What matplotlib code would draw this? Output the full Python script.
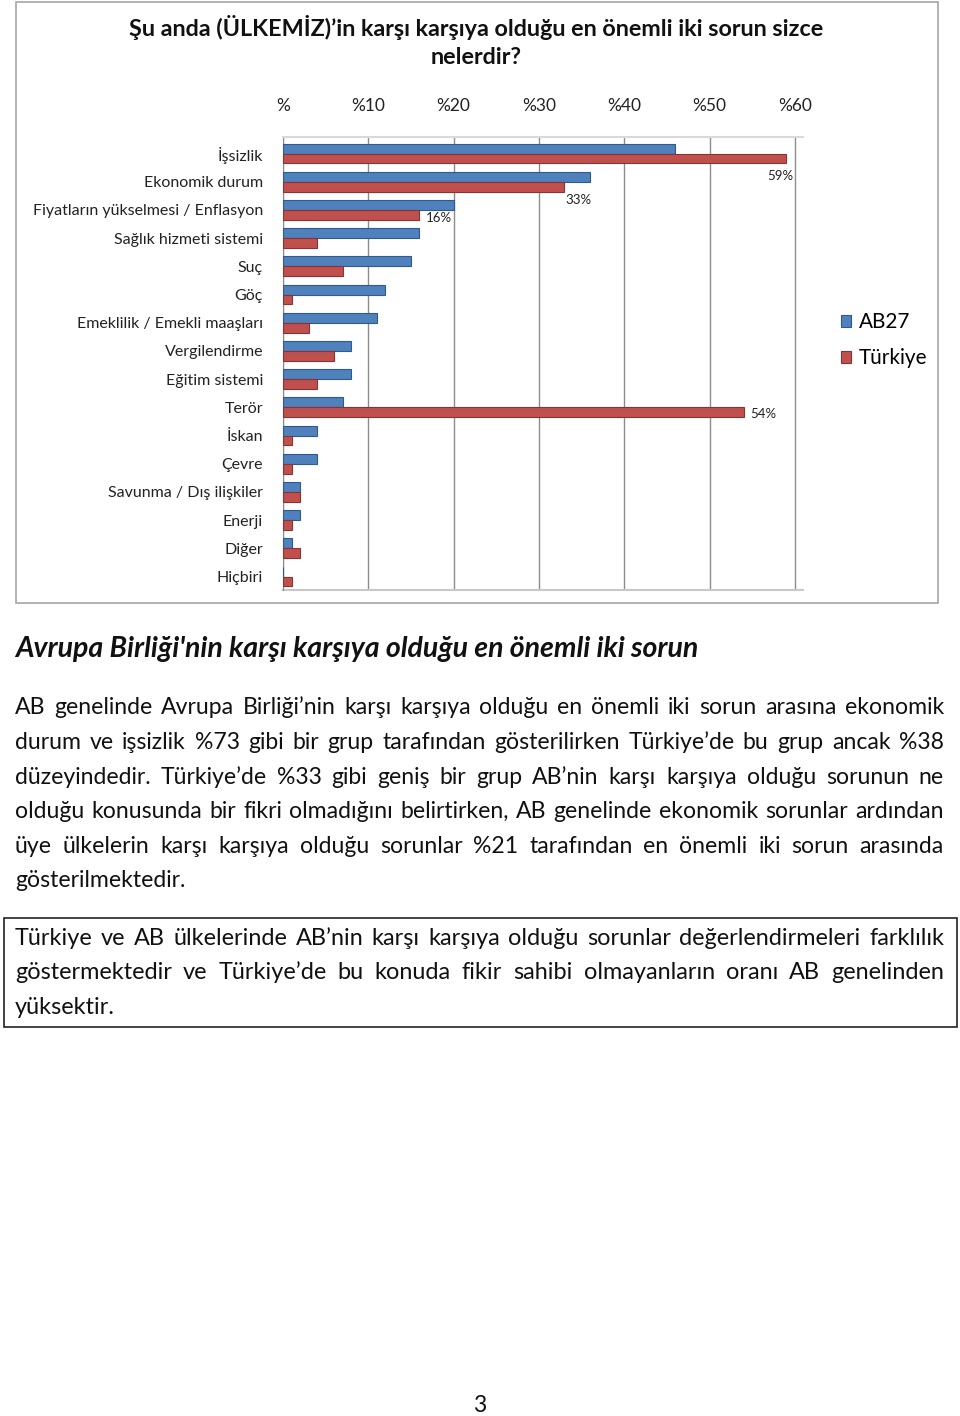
import matplotlib
matplotlib.use("Agg")
import matplotlib.pyplot as plt
from matplotlib.patches import Rectangle
import numpy as np

W, H = 960, 1416
FONT = ['Lato', 'DejaVu Sans']
plt.rcParams['font.family'] = FONT

# ---------------- data ----------------
categories = ["İşsizlik", "Ekonomik durum", "Fiyatların yükselmesi / Enflasyon",
              "Sağlık hizmeti sistemi", "Suç", "Göç", "Emeklilik / Emekli maaşları",
              "Vergilendirme", "Eğitim sistemi", "Terör", "İskan", "Çevre",
              "Savunma / Dış ilişkiler", "Enerji", "Diğer", "Hiçbiri"]
ab27 = [46, 36, 20, 16, 15, 12, 11, 8, 8, 7, 4, 4, 2, 2, 1, 0]
turkiye = [59, 33, 16, 4, 7, 1, 3, 6, 4, 54, 1, 1, 2, 1, 2, 1]
series_names = ["AB27", "Türkiye"]
tick_values = [0, 10, 20, 30, 40, 50, 60]
tick_labels = ["%", "%10", "%20", "%30", "%40", "%50", "%60"]
# labelled bars (row index, label, offset in px (dx, dy-down))
value_labels = [(0, "59%", (-6, 18)), (1, "33%", (14, 13)),
                (2, "16%", (19, 3)), (9, "54%", (20, 2))]

chart_title = ["Şu anda (ÜLKEMİZ)’in karşı karşıya olduğu en önemli iki sorun sizce",
               "nelerdir?"]
heading = "Avrupa Birliği'nin karşı karşıya olduğu en önemli iki sorun"
para_lines = [
    "AB genelinde Avrupa Birliği’nin karşı karşıya olduğu en önemli iki sorun arasına ekonomik",
    "durum ve işsizlik %73 gibi bir grup tarafından gösterilirken Türkiye’de bu grup ancak %38",
    "düzeyindedir. Türkiye’de %33 gibi geniş bir grup AB’nin karşı karşıya olduğu sorunun ne",
    "olduğu konusunda bir fikri olmadığını belirtirken, AB genelinde ekonomik sorunlar ardından",
    "üye ülkelerin karşı karşıya olduğu sorunlar %21 tarafından en önemli iki sorun arasında",
    "gösterilmektedir.",
]
box_lines = [
    "Türkiye ve AB ülkelerinde AB’nin karşı karşıya olduğu sorunlar değerlendirmeleri farklılık",
    "göstermektedir ve Türkiye’de bu konuda fikir sahibi olmayanların oranı AB genelinden",
    "yüksektir.",
]
page_number = "3"

# ---------------- figure ----------------
fig = plt.figure(figsize=(W / 100, H / 100), dpi=100)
fig.patch.set_facecolor('white')
renderer = fig.canvas.get_renderer()


def fx(x):
    return x / W


def fy(y):
    return 1 - y / H


def text_width(s, size, **kw):
    t = fig.text(0, 0, s, fontsize=size, **kw)
    w = t.get_window_extent(renderer).width
    t.remove()
    return w


def fit_size(s, target, **kw):
    return 10 * target / text_width(s, 10, **kw)


def justify(line, x0, x1, ybase, size, last=False, **kw):
    words = line.split(' ')
    widths = [text_width(w, size, **kw) for w in words]
    if last or len(words) == 1:
        gap = text_width('a a', size, **kw) - text_width('aa', size, **kw)
    else:
        gap = (x1 - x0 - sum(widths)) / (len(words) - 1)
    x = x0
    for w, wd in zip(words, widths):
        fig.text(fx(x), fy(ybase), w, fontsize=size, ha='left', va='baseline', **kw)
        x += wd + gap


# chart border
fig.add_artist(Rectangle((fx(16), fy(603)), fx(938 - 16), (603 - 2) / H,
                         transform=fig.transFigure, fill=False,
                         edgecolor='#a6a6a6', lw=1.2))

# chart title
ts = fit_size(chart_title[0], 697, fontweight='bold')
fig.text(fx(476), fy(27), chart_title[0], fontsize=ts, fontweight='bold',
         ha='center', va='center', color='#111111')
fig.text(fx(476), fy(57), chart_title[1], fontsize=ts, fontweight='bold',
         ha='center', va='center', color='#111111')

# axes
x_left, x_right = 283, 803
y_top, y_bot = 137, 590
row0, row_step = 153.5, 28.2
ax = fig.add_axes([fx(x_left), fy(y_bot), (x_right - x_left) / W, (y_bot - y_top) / H])
xmax = (x_right - x_left) / 8.53
ax.set_xlim(0, xmax)
ax.set_ylim((y_bot - row0) / row_step, (y_top - row0) / row_step)

pos = np.arange(len(categories))
bh = 0.35
ax.barh(pos - bh / 2, ab27, height=bh, color='#4F81BD', edgecolor='#2f5a8f',
        lw=0.8, label=series_names[0], zorder=3)
ax.barh(pos + bh / 2, turkiye, height=bh, color='#C0504D', edgecolor='#8c3331',
        lw=0.8, label=series_names[1], zorder=3)

ax.set_xticks(tick_values)
ax.xaxis.tick_top()
ls = fit_size("%10", 34)
ax.set_xticklabels(tick_labels, fontsize=ls, color='#222222')
ax.tick_params(axis='x', length=0, pad=ls * 1.75 - 5)
ax.set_yticks(pos)
cs = fit_size(categories[2], 230)
ax.set_yticklabels(categories, fontsize=cs, color='#222222')
ax.tick_params(axis='y', length=0, pad=14.4)
ax.grid(axis='x', color='#8c8c8c', lw=1.0, zorder=0)
for s in ['right', 'bottom']:
    ax.spines[s].set_visible(False)
ax.spines['top'].set_color('#d9d9d9')
ax.spines['top'].set_linewidth(1.5)
ax.spines['left'].set_color('#8c8c8c')
ax.axhline(ax.get_ylim()[0], color='#c8c8c8', lw=1.5, clip_on=False)

vs = fit_size("59%", 26)
for row, lab, (dx, dy) in value_labels:
    ax.annotate(lab, xy=(turkiye[row], row + bh / 2), xytext=(dx * 0.72, -dy * 0.72),
                textcoords='offset points', ha='center', va='center',
                fontsize=vs, color='#222222')

# legend
legs = fit_size("Türkiye", 69)
leg = ax.legend(loc='upper left', bbox_to_anchor=(fx(841), fy(312)),
                bbox_transform=fig.transFigure, frameon=False, fontsize=legs,
                handlelength=0.5, handleheight=0.5, handletextpad=0.35,
                labelspacing=0.78, borderaxespad=0, borderpad=0)

# heading
hs = fit_size(heading, 683, fontweight='bold', fontstyle='italic')
fig.text(fx(15), fy(657), heading, fontsize=hs, fontweight='bold',
         fontstyle='italic', ha='left', va='baseline', color='#111111')

# paragraph
ps = fit_size(para_lines[-1], 171)
para_y = [706, 741, 776, 810, 845, 879]
for i, (line, yc) in enumerate(zip(para_lines, para_y)):
    justify(line, 15, 944, yc + 8, ps, last=(i == len(para_lines) - 1), color='#111111')

# box
fig.add_artist(Rectangle((fx(4), fy(1027)), fx(957 - 4), (1027 - 918) / H,
                         transform=fig.transFigure, fill=False,
                         edgecolor='#222222', lw=1.2))
bs = fit_size(box_lines[-1], 100)
box_y = [937, 971, 1006]
for i, (line, yc) in enumerate(zip(box_lines, box_y)):
    justify(line, 15, 944, yc + 8, bs, last=(i == len(box_lines) - 1),
            color='#111111')

fig.text(fx(480), fy(1406), page_number, fontsize=ps, ha='center', va='center',
         color='#111111')

fig.savefig('out.png', dpi=100)
